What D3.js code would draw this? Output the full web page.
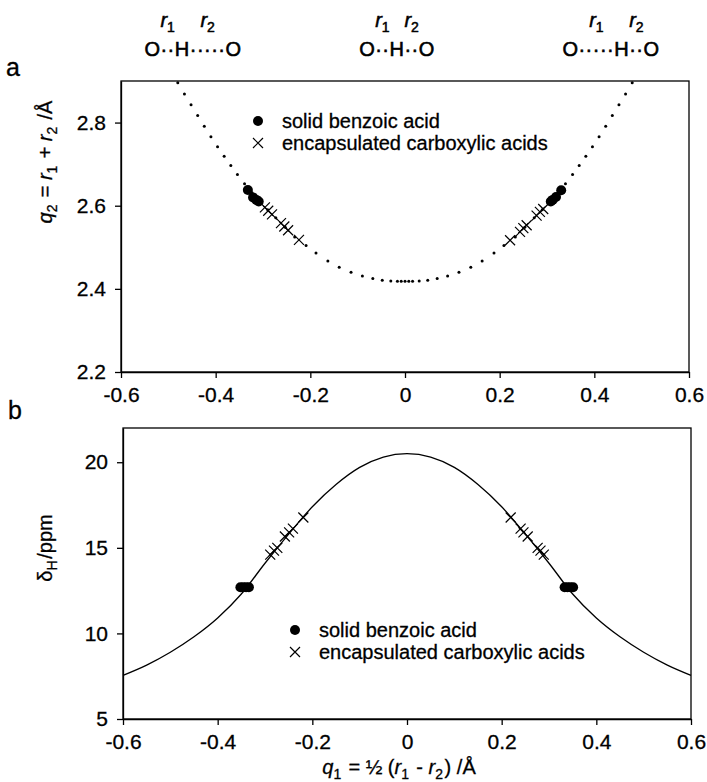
<!DOCTYPE html>
<html lang="en">
<head>
<meta charset="UTF-8">
<title>Proton position vs H-bond geometry and shift</title>
<script src="https://d3js.org/d3.v7.min.js"></script>
<style>
  body { margin: 0; background: #fff; }
  svg { font-family: "Liberation Sans", Arial, sans-serif; }
  .axis text { font-size: 21px; fill: #000; stroke: #000; stroke-width: 0.3; }
  .axis path, .axis line { stroke: #000; stroke-width: 1.3; }
  .lbl { font-size: 20px; fill: #000; stroke: #000; stroke-width: 0.3; }
</style>
</head>
<body>
<svg width="707" height="782"></svg>
<script>
// ticks
const q1Ticks = [-0.6, -0.4, -0.2, 0, 0.2, 0.4, 0.6];
const q2Ticks = [2.2, 2.4, 2.6, 2.8];
const shiftTicks = [5, 10, 15, 20];

// panel a: dotted q2(q1) correlation
const corrQ1 = [-0.480, -0.466, -0.452, -0.438, -0.424, -0.410, -0.396, -0.382, -0.368, -0.354,
  -0.339, -0.323, -0.307, -0.290, -0.273, -0.253, -0.233, -0.209, -0.188, -0.163,
  -0.139, -0.114, -0.090, -0.068, -0.048, -0.030, -0.016, -0.008, 0,
  0.008, 0.016, 0.030, 0.048, 0.068, 0.090, 0.114, 0.139, 0.163, 0.188,
  0.209, 0.233, 0.253, 0.273, 0.290, 0.307, 0.323, 0.339, 0.354, 0.368,
  0.382, 0.396, 0.410, 0.424, 0.438, 0.452, 0.466, 0.480];
const corrQ2 = [2.896, 2.869, 2.843, 2.817, 2.791, 2.766, 2.742, 2.719, 2.697, 2.675,
  2.653, 2.631, 2.611, 2.590, 2.571, 2.548, 2.525, 2.504, 2.486, 2.467,
  2.452, 2.440, 2.431, 2.425, 2.421, 2.419, 2.418, 2.418, 2.418,
  2.418, 2.418, 2.419, 2.421, 2.425, 2.431, 2.440, 2.452, 2.467, 2.486,
  2.504, 2.525, 2.548, 2.571, 2.590, 2.611, 2.631, 2.653, 2.675, 2.697,
  2.719, 2.742, 2.766, 2.791, 2.817, 2.843, 2.869, 2.896];

// panel a: measured points
const solidQ1a = [-0.332, -0.321, -0.314, -0.309, 0.308, 0.312, 0.319, 0.330];
const solidQ2a = [2.638, 2.620, 2.614, 2.610, 2.610, 2.614, 2.621, 2.637];
const encapQ1a = [-0.296, -0.289, -0.281, -0.262, -0.255, -0.247, -0.224,
  0.222, 0.243, 0.250, 0.257, 0.278, 0.285, 0.292];
const encapQ2a = [2.596, 2.588, 2.579, 2.558, 2.550, 2.541, 2.518,
  2.517, 2.537, 2.546, 2.553, 2.576, 2.585, 2.592];

// panel b: shift curve
const curveQ1 = [-0.6, -0.55, -0.5, -0.45, -0.4, -0.35, -0.3, -0.25, -0.2, -0.15, -0.1, -0.05, 0,
  0.05, 0.1, 0.15, 0.2, 0.25, 0.3, 0.35, 0.4, 0.45, 0.5, 0.55, 0.6];
const curveShift = [7.55, 8.15, 8.9, 9.8, 10.9, 12.3, 14.1, 15.8, 17.4, 18.7, 19.7, 20.3, 20.5,
  20.3, 19.7, 18.7, 17.4, 15.8, 14.1, 12.3, 10.9, 9.8, 8.9, 8.15, 7.55];

// panel b: measured points
const solidQ1b = [-0.352, -0.346, -0.340, -0.334, 0.333, 0.339, 0.345, 0.351];
const solidShiftB = [12.7, 12.7, 12.7, 12.7, 12.7, 12.7, 12.7, 12.7];
const encapQ1b = [-0.289, -0.281, -0.274, -0.258, -0.249, -0.241, -0.219,
  0.219, 0.240, 0.246, 0.255, 0.276, 0.282, 0.289];
const encapShiftB = [14.6, 14.84, 15.0, 15.66, 15.9, 16.12, 16.77,
  16.77, 16.12, 15.9, 15.66, 15.0, 14.84, 14.6];

const legendNames = ["solid benzoic acid", "encapsulated carboxylic acids"];
const bridgeLabels = ["O··H·····O", "O··H··O", "O·····H··O"];

const svg = d3.select("svg");
const crossPath = "M-5,-5L5,5M-5,5L5,-5";

const xa = d3.scaleLinear().domain([-0.6, 0.6]).range([121, 689]);
const ya = d3.scaleLinear().domain([2.2, 2.9]).range([372, 81]);
const xb = d3.scaleLinear().domain([-0.6, 0.6]).range([123, 691]);
const yb = d3.scaleLinear().domain([5, 22]).range([719, 428]);

const fmtX = d => d === 0 ? "0" : d.toFixed(1);

function frame(x, y, yTicks, yFmt) {
  const g = svg.append("g");
  g.append("g").attr("class", "axis")
    .attr("transform", `translate(0,${y.range()[0]})`)
    .call(d3.axisBottom(x).tickValues(q1Ticks).tickFormat(fmtX).tickSize(6).tickSizeOuter(0).tickPadding(9));
  g.append("g").attr("class", "axis")
    .attr("transform", `translate(${x.range()[0]},0)`)
    .call(d3.axisLeft(y).tickValues(yTicks).tickFormat(yFmt).tickSize(6).tickSizeOuter(0).tickPadding(9));
  g.append("rect")
    .attr("x", x.range()[0]).attr("y", y.range()[1])
    .attr("width", x.range()[1] - x.range()[0])
    .attr("height", y.range()[0] - y.range()[1])
    .attr("fill", "none").attr("stroke", "#000").attr("stroke-width", 1.3);
  g.selectAll(".axis text").attr("font-family", "Liberation Sans, Arial, sans-serif");
  return g;
}

function legend(x0, y0) {
  svg.append("circle").attr("cx", x0).attr("cy", y0).attr("r", 5).attr("fill", "#000");
  svg.append("path").attr("d", crossPath).attr("transform", `translate(${x0},${y0 + 22})`)
    .attr("stroke", "#000").attr("stroke-width", 1.2).attr("fill", "none");
  legendNames.forEach((t, i) => {
    svg.append("text").attr("class", "lbl").attr("x", x0 + 24).attr("y", y0 + 7 + i * 22).text(t);
  });
}

// ---- panel a
frame(xa, ya, q2Ticks, d => d.toFixed(1));

svg.append("g").selectAll("circle")
  .data(corrQ1.map((q, i) => [q, corrQ2[i]]))
  .join("circle")
  .attr("cx", d => xa(d[0])).attr("cy", d => ya(d[1]))
  .attr("r", 1.5).attr("fill", "#000");

svg.append("g").selectAll("path")
  .data(encapQ1a.map((q, i) => [q, encapQ2a[i]]))
  .join("path")
  .attr("d", crossPath)
  .attr("transform", d => `translate(${xa(d[0])},${ya(d[1])})`)
  .attr("stroke", "#000").attr("stroke-width", 1.2).attr("fill", "none");

svg.append("g").selectAll("circle")
  .data(solidQ1a.map((q, i) => [q, solidQ2a[i]]))
  .join("circle")
  .attr("cx", d => xa(d[0])).attr("cy", d => ya(d[1]))
  .attr("r", 5).attr("fill", "#000");

legend(258, 121);

// ---- panel b
frame(xb, yb, shiftTicks, d => String(d));

svg.append("path")
  .datum(curveQ1.map((q, i) => [q, curveShift[i]]))
  .attr("d", d3.line().x(d => xb(d[0])).y(d => yb(d[1])).curve(d3.curveMonotoneX))
  .attr("fill", "none").attr("stroke", "#000").attr("stroke-width", 1.3);

svg.append("g").selectAll("path")
  .data(encapQ1b.map((q, i) => [q, encapShiftB[i]]))
  .join("path")
  .attr("d", crossPath)
  .attr("transform", d => `translate(${xb(d[0])},${yb(d[1])})`)
  .attr("stroke", "#000").attr("stroke-width", 1.2).attr("fill", "none");

svg.append("g").selectAll("circle")
  .data(solidQ1b.map((q, i) => [q, solidShiftB[i]]))
  .join("circle")
  .attr("cx", d => xb(d[0])).attr("cy", d => yb(d[1]))
  .attr("r", 5).attr("fill", "#000");

legend(295, 630);

// ---- panel letters
svg.append("text").attr("class", "lbl").attr("x", 6).attr("y", 76).style("font-size", "25px").text("a");
svg.append("text").attr("class", "lbl").attr("x", 8).attr("y", 419).style("font-size", "25px").text("b");

// ---- axis titles
function sub(t, s) {
  t.append("tspan").attr("font-size", 14).attr("dy", 5).text(s);
  t.append("tspan").attr("dy", -5).text("\u200A");
}

const ta = svg.append("text").attr("class", "lbl").attr("text-anchor", "middle")
  .attr("transform", "translate(52,162) rotate(-90)");
ta.append("tspan").attr("font-style", "italic").text("q");
sub(ta, "2");
ta.append("tspan").text(" = ");
ta.append("tspan").attr("font-style", "italic").text("r");
sub(ta, "1");
ta.append("tspan").text(" + ");
ta.append("tspan").attr("font-style", "italic").text("r");
sub(ta, "2");
ta.append("tspan").text(" /Å");

const tb = svg.append("text").attr("class", "lbl").attr("text-anchor", "middle")
  .attr("transform", "translate(52,548) rotate(-90)");
tb.append("tspan").text("δ");
sub(tb, "H");
tb.append("tspan").text("/ppm");

const tx = svg.append("text").attr("class", "lbl").attr("text-anchor", "middle")
  .attr("x", 399).attr("y", 774);
tx.append("tspan").attr("font-style", "italic").text("q");
sub(tx, "1");
tx.append("tspan").text(" = ½ (");
tx.append("tspan").attr("font-style", "italic").text("r");
sub(tx, "1");
tx.append("tspan").text(" - ");
tx.append("tspan").attr("font-style", "italic").text("r");
sub(tx, "2");
tx.append("tspan").text(") /Å");

// ---- bridge sketches above panel a
const bridgeCenters = [193, 397, 611];
bridgeLabels.forEach((s, k) => {
  const t = svg.append("text").attr("class", "lbl").attr("text-anchor", "middle")
    .attr("x", bridgeCenters[k]).attr("y", 56).attr("letter-spacing", 0.5)
    .style("stroke-width", "0.6px").text(s);
  const node = t.node();
  const hIdx = s.indexOf("H");
  const first = node.getExtentOfChar(0);
  const h = node.getExtentOfChar(hIdx);
  const last = node.getExtentOfChar(s.length - 1);
  const mids = [(first.x + first.width + h.x) / 2, (h.x + h.width + last.x) / 2];
  mids.forEach((m, j) => {
    const r = svg.append("text").attr("class", "lbl").attr("text-anchor", "middle")
      .attr("x", m).attr("y", 27).style("stroke-width", "0.5px");
    r.append("tspan").attr("font-style", "italic").text("r");
    r.append("tspan").attr("font-size", 14).attr("dy", 5).text(String(j + 1));
  });
});
</script>
</body>
</html>
